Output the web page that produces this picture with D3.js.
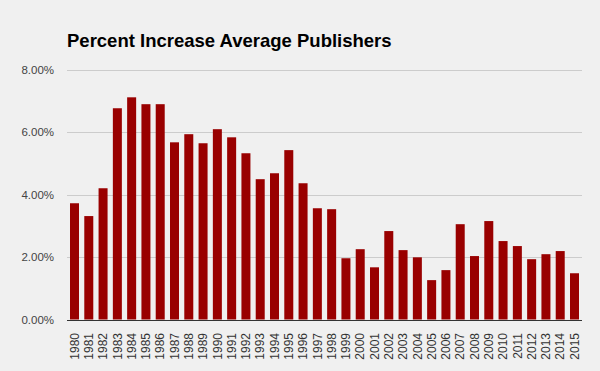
<!DOCTYPE html>
<html><head><meta charset="utf-8">
<script src="https://cdn.jsdelivr.net/npm/d3@7"></script>
<style>
html,body{margin:0;padding:0;background:#f0f0f0;}
svg{display:block;font-family:"Liberation Sans",Arial,sans-serif;}
</style></head>
<body>
<svg id="chart" width="600" height="371"></svg>
<script>
const title = "Percent Increase Average Publishers";
const years = ["1980","1981","1982","1983","1984","1985","1986","1987","1988","1989","1990","1991","1992","1993","1994","1995","1996","1997","1998","1999","2000","2001","2002","2003","2004","2005","2006","2007","2008","2009","2010","2011","2012","2013","2014","2015"];
const values = [3.72,3.31,4.20,6.76,7.11,6.89,6.89,5.67,5.93,5.64,6.09,5.83,5.32,4.49,4.68,5.42,4.36,3.56,3.53,1.96,2.25,1.67,2.83,2.22,1.99,1.26,1.58,3.05,2.03,3.15,2.51,2.35,1.93,2.09,2.19,1.48];
const yTicks = [0,2,4,6,8];

const svg = d3.select("#chart");
const m = {left:67, right:18, top:69.5, bottom:51.5};
const W = 600, H = 371;
const x = d3.scaleBand().domain(years).range([m.left, W - m.right]).paddingInner(0.37).paddingOuter(0.21);
const y = d3.scaleLinear().domain([0,8]).range([H - m.bottom, m.top]);

svg.append("rect").attr("width",W).attr("height",H).attr("fill","#f0f0f0");

// gridlines
svg.append("g").selectAll("line").data(yTicks.filter(d=>d>0)).join("line")
  .attr("x1",m.left).attr("x2",W-m.right)
  .attr("y1",d=>Math.round(y(d))+0.5).attr("y2",d=>Math.round(y(d))+0.5)
  .attr("stroke","#cccccc").attr("stroke-width",1);

// y labels
svg.append("g").selectAll("text").data(yTicks).join("text")
  .attr("x",54).attr("y",d=>y(d)).attr("dy","0.35em")
  .attr("text-anchor","end").attr("font-size","11.5px").attr("fill","#444")
  .text(d=>d3.format(".2f")(d)+"%");

// bars
svg.append("g").selectAll("rect").data(values).join("rect")
  .attr("x",(d,i)=>x(years[i])).attr("width",x.bandwidth())
  .attr("y",d=>y(d)).attr("height",d=>y(0)-y(d))
  .attr("fill","#990000");

// baseline
svg.append("line").attr("x1",m.left).attr("x2",W-m.right)
  .attr("y1",Math.round(y(0))+0.5).attr("y2",Math.round(y(0))+0.5)
  .attr("stroke","#333").attr("stroke-width",1);

// x labels
svg.append("g").selectAll("text").data(years).join("text")
  .attr("transform",d=>`translate(${x(d)+x.bandwidth()/2},333) rotate(-90)`)
  .attr("text-anchor","end").attr("dy","0.35em")
  .attr("font-size","12px").attr("fill","#333")
  .text(d=>d);

// title
svg.append("text").attr("x",67).attr("y",47)
  .attr("font-size","18.5px").attr("font-weight","bold").attr("fill","#000")
  .text(title);
</script>
</body></html>
